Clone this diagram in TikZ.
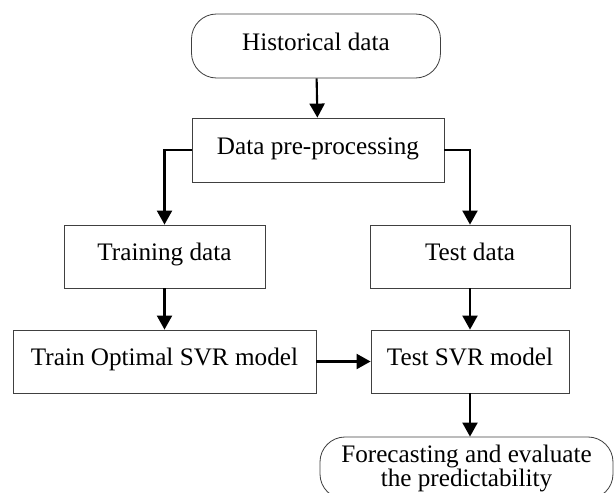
\documentclass[tikz,border=0pt]{standalone}
\usepackage{fontspec}
\setmainfont{Liberation Serif}
\usetikzlibrary{arrows.meta}

\begin{document}
\begin{tikzpicture}[x=0.3mm,y=-0.3mm,
    font=\fontsize{21.5}{20.5}\selectfont,
    frame/.style={draw=black!75,line width=0.7pt,align=center,inner sep=0pt},
    box/.style={frame,text height=0.76em,text depth=0.04em},
    term/.style={box,rounded corners=7.5mm},
    flow/.style={line width=1.8pt,-{Triangle[length=4.2mm,width=4.5mm]}}]
  % Frame
  \useasboundingbox (0,0) rectangle (614,493);
  \clip (0,0) rectangle (614,493);
  % Boxes
  \node[term,minimum width=74.7mm,minimum height=19.2mm] (hist) at (316,46) {Historical data};
  \node[box,minimum width=75.6mm,minimum height=19.2mm] (prep) at (318,150) {Data pre-processing};
  \node[box,minimum width=60.3mm,minimum height=18.9mm] (train) at (164.5,256.5) {Training data};
  \node[box,minimum width=60mm,minimum height=18.9mm] (test) at (470,256.5) {Test data};
  \node[box,minimum width=90.9mm,minimum height=18.9mm] (opt) at (164.5,361.5) {Train Optimal SVR model};
  \node[box,minimum width=59.4mm,minimum height=18.9mm] (tsvr) at (470,361.5) {Test SVR model};
  \node[frame,rounded corners=7.5mm,minimum width=87.9mm,minimum height=18.6mm] (fore) at (466.5,468) {Forecasting and evaluate\\the predictability};
  % Arrows
  \draw[flow] (hist) -- (prep);
  \draw[flow] (prep.west) -| (train.north);
  \draw[flow] (prep.east) -| (test.north);
  \draw[flow] (train) -- (opt);
  \draw[flow] (test) -- (tsvr);
  \draw[flow] (opt) -- (tsvr);
  \draw[flow] (tsvr.south) -- (tsvr.south |- fore.north);
\end{tikzpicture}
\end{document}
